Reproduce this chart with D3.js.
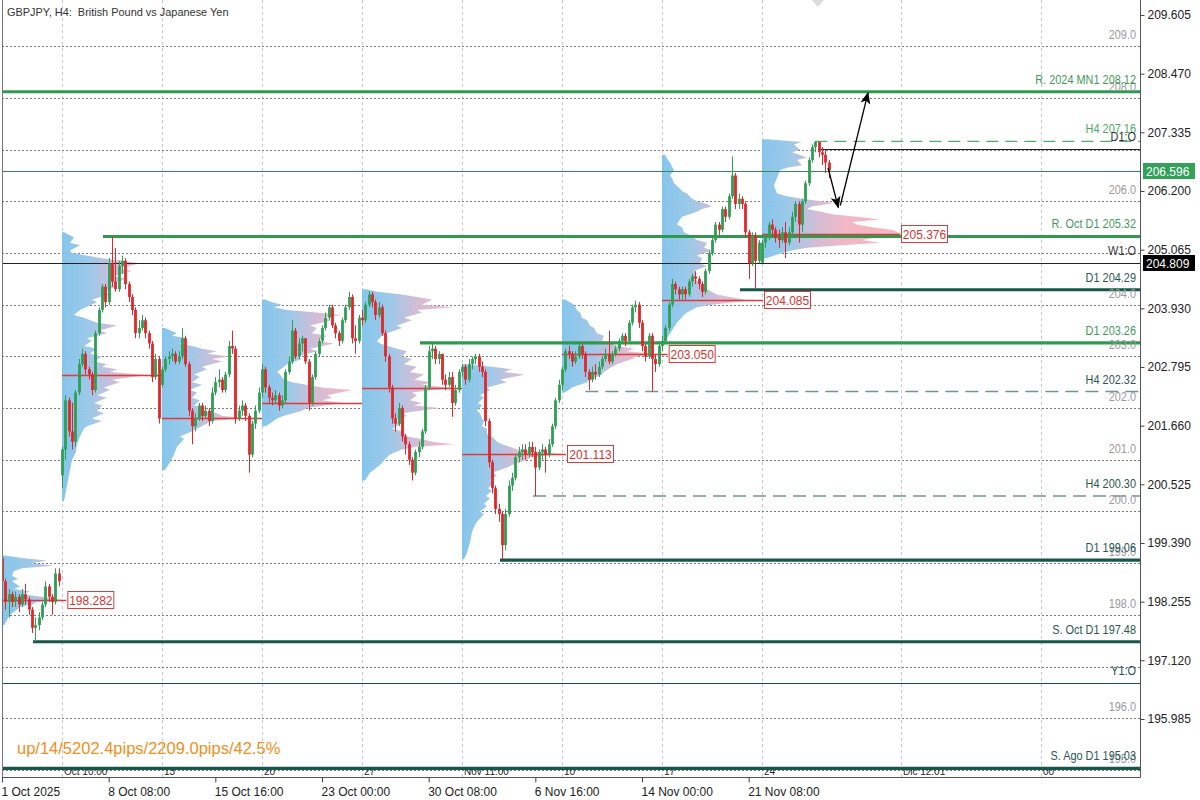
<!DOCTYPE html>
<html><head><meta charset="utf-8">
<script src="https://cdn.jsdelivr.net/npm/d3@7"></script>
<style>body{margin:0;background:#fff}svg{display:block;font-family:"Liberation Sans",Arial,sans-serif}text{white-space:pre}</style>
</head><body><svg id="c" width="1200" height="800"></svg>
<script>
// ---------------- DATA ----------------
const title = "GBPJPY, H4:  British Pound vs Japanese Yen";
const statsText = "up/14/5202.4pips/2209.0pips/42.5%";

const weekStarts = [0, 18, 48, 78, 108, 138, 168, 198, 228];
const weekOpens  = [199.10, 200.70, 202.45, 202.30, 203.75, 202.70, 202.45, 203.20, 204.81];

const closes = [
 198.65,198.25,198.40,198.25,198.35,198.20,198.40,198.30,198.10,197.75,197.80,197.95,198.20,198.55,198.35,198.25,198.80,198.65,
 201.20,202.15,201.55,201.35,202.30,202.85,203.05,202.75,202.65,202.35,203.45,203.90,204.35,204.05,204.80,204.45,204.30,204.75,204.85,204.40,204.15,203.90,203.45,203.55,203.70,203.45,203.25,202.60,202.95,201.80,
 202.75,202.95,203.00,203.05,202.90,203.00,203.35,202.85,201.95,201.65,201.80,202.05,201.85,201.95,201.75,202.30,202.50,202.55,202.35,202.65,203.20,203.15,201.80,201.95,202.05,201.85,201.10,201.70,201.95,202.30,
 202.75,202.40,202.20,202.15,202.25,202.05,202.15,202.70,202.90,203.50,203.00,203.25,203.35,202.90,202.10,202.60,203.05,203.30,203.55,203.75,203.95,203.60,203.45,203.30,203.70,203.95,204.15,203.35,203.30,203.75,
 203.70,204.00,204.20,204.05,203.80,203.95,203.45,203.00,202.40,201.80,201.70,202.00,201.45,201.30,201.00,200.75,201.15,201.25,201.55,202.40,203.10,203.15,202.95,203.05,202.55,202.45,202.60,202.10,202.35,202.70,
 202.80,202.55,202.85,202.95,203.00,202.80,202.70,201.75,200.95,200.45,200.05,199.95,199.35,199.95,200.50,200.65,201.05,201.15,201.20,201.10,201.25,201.15,200.85,201.15,201.20,201.10,201.30,201.65,202.15,202.45,
 202.75,203.10,203.05,202.90,203.00,203.20,203.05,202.70,202.55,202.70,202.65,202.80,202.95,203.05,202.90,203.05,203.15,203.30,203.40,203.30,203.65,203.95,204.00,203.65,203.20,203.00,203.40,202.95,202.85,203.20,
 203.30,203.55,204.00,204.40,204.30,204.20,204.30,204.20,204.45,204.55,204.50,204.40,204.25,204.65,205.00,205.25,205.55,205.45,205.85,205.70,206.10,206.50,205.95,206.05,205.95,205.40,204.80,205.35,204.85,205.20,
 205.20,205.30,205.55,205.45,205.30,205.25,205.40,205.20,205.40,205.70,205.95,205.55,206.00,206.35,206.80,207.05,207.15,206.95,206.90,206.75,206.60
];
const highs = [
 199.15,198.70,198.50,198.45,198.45,198.40,198.50,198.60,198.35,198.15,197.95,198.05,198.25,198.65,198.60,198.40,198.90,198.90,
 201.25,202.25,202.20,202.10,202.35,202.95,203.15,203.10,202.80,202.70,203.50,203.95,204.40,204.40,204.90,205.32,205.10,204.85,204.95,204.90,204.45,204.20,203.95,203.70,203.80,203.75,203.50,203.30,203.05,203.00,
 202.80,203.00,203.10,203.15,203.10,203.10,203.55,203.40,202.90,202.00,201.90,202.10,202.10,202.05,202.00,202.40,202.60,202.75,202.60,202.70,203.30,203.50,203.20,202.05,202.15,202.10,201.90,201.75,202.05,202.40,
 202.85,202.80,202.45,202.30,202.35,202.30,202.25,202.75,203.00,203.70,203.55,203.35,203.40,203.35,202.95,202.65,203.10,203.35,203.60,203.85,204.00,204.00,203.65,203.50,203.75,204.00,204.25,204.20,203.60,203.80,
 203.90,204.05,204.26,204.25,204.10,204.05,204.00,203.50,203.05,202.45,201.90,202.10,202.05,201.50,201.35,201.05,201.20,201.35,201.60,202.45,203.20,203.25,203.20,203.10,203.05,202.65,202.70,202.70,202.45,202.75,
 202.85,202.85,202.95,203.00,203.05,203.05,202.90,202.75,201.80,201.00,200.50,200.15,200.00,200.05,200.60,200.75,201.10,201.25,201.30,201.30,201.35,201.35,201.25,201.20,201.30,201.25,201.40,201.70,202.20,202.55,
 202.80,203.15,203.20,203.10,203.10,203.25,203.25,203.10,202.75,202.80,202.85,202.90,203.00,203.15,203.50,203.10,203.20,203.35,203.45,203.45,203.70,204.00,204.08,204.05,203.70,203.25,203.45,203.45,203.05,203.25,
 203.40,203.60,204.05,204.50,204.45,204.35,204.35,204.35,204.50,204.60,204.65,204.55,204.45,204.70,205.05,205.30,205.60,205.60,205.90,205.90,206.15,206.87,206.55,206.15,206.10,206.00,205.45,205.40,205.40,205.25,
 205.25,205.35,205.60,205.65,205.50,205.45,205.50,205.60,205.50,205.80,206.00,206.00,206.05,206.40,206.85,207.10,207.17,207.15,207.05,207.00,206.80
];
const lows = [
 198.55,198.10,197.95,198.15,198.15,198.05,198.15,198.20,198.00,197.65,197.48,197.70,197.90,198.15,198.25,198.00,198.20,198.55,
 200.45,201.00,201.45,201.20,201.25,202.25,202.80,202.65,202.55,202.25,202.30,203.40,203.85,203.95,204.00,204.35,204.25,204.25,204.60,204.30,204.05,203.80,203.35,203.35,203.50,203.35,203.15,202.50,202.55,201.70,
 202.40,202.70,202.85,202.90,202.85,202.85,202.95,202.80,201.85,201.30,201.55,201.75,201.75,201.80,201.65,201.70,202.25,202.40,202.30,202.30,202.60,203.05,201.70,201.75,201.85,201.75,200.75,201.05,201.60,201.90,
 202.20,202.30,202.10,202.05,202.10,201.95,202.00,202.10,202.65,202.85,202.95,202.95,203.10,202.85,201.95,202.05,202.55,203.00,203.25,203.50,203.70,203.55,203.35,203.20,203.25,203.65,203.90,203.25,203.05,203.25,
 203.60,203.65,203.95,203.95,203.70,203.75,203.40,202.90,202.30,201.70,201.55,201.65,201.35,201.10,200.90,200.60,200.70,201.05,201.20,201.50,202.35,202.95,202.85,202.85,202.45,202.35,202.40,201.83,202.05,202.30,
 202.60,202.45,202.50,202.75,202.85,202.70,202.60,201.65,200.85,200.35,199.95,199.80,199.08,199.25,199.90,200.40,200.60,200.95,201.00,201.00,201.05,201.05,200.30,200.80,201.00,200.75,201.05,201.25,201.60,202.10,
 202.35,202.70,202.95,202.80,202.85,202.95,202.95,202.60,202.35,202.50,202.55,202.60,202.75,202.90,202.85,202.85,203.00,203.10,203.25,203.20,203.25,203.60,203.85,203.55,203.10,202.90,202.95,202.32,202.70,202.80,
 203.10,203.25,203.50,203.95,204.20,204.10,204.10,204.10,204.15,204.35,204.40,204.30,204.15,204.20,204.60,204.95,205.20,205.35,205.40,205.60,205.65,206.05,205.85,205.85,205.85,205.30,204.50,204.75,204.32,204.80,
 204.80,205.10,205.25,205.35,205.20,205.10,205.20,204.90,205.15,205.30,205.60,205.20,205.40,205.95,206.30,206.75,206.95,206.85,206.70,206.55,206.45
];

// weekly volume profiles: [price, volume]
const profile1 = [[199.15,3],[199.1,20],[199.05,45],[199.0,30],[198.95,52],[198.9,20],[198.85,12],[198.75,10],[198.7,16],[198.65,10],[198.55,18],[198.5,12],[198.45,28],[198.4,20],[198.35,40],[198.28,62],[198.25,35],[198.2,30],[198.15,18],[198.1,15],[198.0,8],[197.9,5],[197.8,2]];
const profile2 = [[205.4,2],[205.3,12],[205.2,8],[205.15,18],[205.05,8],[205.0,10],[204.9,40],[204.85,60],[204.8,78],[204.7,58],[204.65,70],[204.55,52],[204.5,65],[204.4,48],[204.35,55],[204.25,40],[204.2,48],[204.1,30],[204.05,35],[203.9,18],[203.8,12],[203.75,22],[203.65,35],[203.6,55],[203.5,38],[203.45,45],[203.35,25],[203.3,30],[203.2,22],[203.15,35],[203.05,28],[203.0,40],[202.9,32],[202.85,45],[202.8,40],[202.75,55],[202.7,48],[202.64,85],[202.55,50],[202.5,58],[202.4,42],[202.35,48],[202.25,35],[202.2,45],[202.1,32],[202.05,40],[201.95,35],[201.9,42],[201.8,30],[201.75,40],[201.65,25],[201.6,22],[201.45,18],[201.3,15],[201.15,14],[201.0,10],[200.8,8],[200.6,6],[200.4,4],[200.2,2]];
const profile3 = [[203.55,3],[203.45,15],[203.4,10],[203.35,25],[203.25,18],[203.2,30],[203.15,40],[203.1,55],[203.05,45],[203.0,68],[202.95,50],[202.9,60],[202.8,40],[202.75,45],[202.65,32],[202.6,38],[202.5,30],[202.45,40],[202.35,28],[202.3,35],[202.2,30],[202.15,38],[202.05,32],[202.0,45],[201.95,40],[201.9,55],[201.85,60],[201.81,80],[201.75,50],[201.7,45],[201.6,35],[201.55,30],[201.45,18],[201.4,22],[201.25,15],[201.1,12],[200.95,8],[200.8,3]];
const profile4 = [[204.1,3],[204.05,10],[204.0,20],[203.95,12],[203.9,25],[203.85,55],[203.8,80],[203.75,60],[203.7,70],[203.6,48],[203.55,55],[203.45,50],[203.4,65],[203.3,55],[203.25,72],[203.15,48],[203.1,55],[203.0,35],[202.95,40],[202.85,25],[202.8,22],[202.7,15],[202.65,18],[202.55,22],[202.5,30],[202.4,60],[202.35,90],[202.25,65],[202.2,70],[202.15,60],[202.1,80],[202.0,45],[201.95,40],[201.85,22],[201.8,15],[201.65,4]];
const profile5 = [[204.3,4],[204.25,15],[204.2,40],[204.15,55],[204.1,70],[204.0,60],[203.95,92],[203.9,55],[203.85,60],[203.75,42],[203.7,50],[203.6,35],[203.55,40],[203.45,25],[203.4,20],[203.3,15],[203.25,18],[203.15,35],[203.1,45],[203.0,40],[202.95,50],[202.85,42],[202.8,55],[202.7,48],[202.65,62],[202.55,52],[202.5,70],[202.45,60],[202.39,90],[202.3,50],[202.25,55],[202.15,48],[202.1,60],[202.05,52],[202.0,78],[201.9,40],[201.85,45],[201.75,32],[201.7,40],[201.6,30],[201.55,40],[201.45,45],[201.4,60],[201.35,70],[201.3,92],[201.25,55],[201.2,40],[201.1,28],[201.05,25],[200.9,18],[200.75,8],[200.6,3]];
const profile6 = [[202.85,3],[202.8,30],[202.75,50],[202.7,42],[202.65,63],[202.55,38],[202.5,45],[202.4,25],[202.35,28],[202.25,18],[202.2,22],[202.1,16],[202.05,20],[201.95,15],[201.9,18],[201.8,20],[201.75,22],[201.65,20],[201.6,25],[201.5,25],[201.45,30],[201.35,35],[201.3,40],[201.25,48],[201.2,55],[201.15,80],[201.11,100],[201.05,70],[201.0,65],[200.9,50],[200.85,45],[200.75,30],[200.7,35],[200.6,28],[200.55,32],[200.45,26],[200.4,30],[200.3,24],[200.25,28],[200.15,22],[200.1,25],[200.0,18],[199.95,22],[199.8,15],[199.7,12],[199.6,10],[199.4,8],[199.2,5],[199.08,2]];
const profile7 = [[204.1,3],[204.05,8],[204.0,12],[203.9,15],[203.85,18],[203.75,20],[203.7,25],[203.6,28],[203.55,32],[203.45,35],[203.4,42],[203.3,40],[203.25,50],[203.2,55],[203.15,72],[203.1,65],[203.05,92],[203.0,75],[202.95,70],[202.85,55],[202.8,50],[202.7,42],[202.65,40],[202.55,28],[202.5,25],[202.4,10],[202.3,3]];
const profile8 = [[206.9,3],[206.8,6],[206.75,8],[206.6,12],[206.5,8],[206.45,10],[206.35,12],[206.3,15],[206.2,20],[206.15,25],[206.05,30],[206.0,35],[205.95,45],[205.9,50],[205.85,40],[205.8,35],[205.7,20],[205.65,18],[205.55,15],[205.5,20],[205.4,22],[205.35,28],[205.25,35],[205.2,45],[205.1,42],[205.05,50],[204.95,35],[204.9,40],[204.8,38],[204.75,45],[204.65,32],[204.6,35],[204.5,30],[204.45,38],[204.35,40],[204.3,45],[204.2,55],[204.18,60],[204.08,87],[204.0,50],[203.95,35],[203.85,25],[203.8,22],[203.65,15],[203.5,10],[203.35,5],[203.2,2]];
const profile9 = [[207.2,5],[207.15,40],[207.1,32],[207.0,38],[206.95,30],[206.85,45],[206.8,35],[206.7,40],[206.65,25],[206.6,18],[206.45,15],[206.3,12],[206.15,15],[206.1,25],[206.05,40],[205.97,73],[205.9,50],[205.85,45],[205.8,60],[205.75,70],[205.7,95],[205.65,118],[205.6,90],[205.55,95],[205.5,110],[205.45,130],[205.376,139],[205.3,115],[205.25,100],[205.2,118],[205.15,80],[205.1,45],[205.05,30],[205.0,20],[204.9,4]];
const profiles = [profile1, profile2, profile3, profile4, profile5, profile6, profile7, profile8, profile9];

const pocPrices  = [198.282, 202.64, 201.81, 202.10, 202.39, 201.113, 203.050, 204.085, 205.376];
const pocEndBars = [19.3, 48, 78, 108, 138, 169.2, 199.7, 228.3, 269.4];
const pocLabeled = [true, false, false, false, false, true, true, true, true];

const levelNames  = ["R. 2024 MN1 208.12","H4 207.16","R. Oct D1 205.32","D1 204.29","D1 203.26","H4 202.32","H4 200.30","D1 199.06","S. Oct D1 197.48","S. Ago D1 195.03"];
const levelPrices = [208.12, 207.16, 205.32, 204.29, 203.26, 202.32, 200.30, 199.06, 197.48, 195.03];
const levelStartBars = [0, 244, 30.3, 221.4, 125.4, 175, 159.3, 149.4, 9.3, 0];
const levelKinds  = ["resistance","h4up","resistance","support","resistance","h4down","h4down","support","support","support"];

const openNames  = ["D1:O", "W1:O", "Y1:O"];
const openPrices = [207.02, 204.809, 196.69];
const openStartBars = [245, 0, 0];

const gridLevels  = [209,208,207,206,205,204,203,202,201,200,199,198,197,196,195];
const roundLabels = [209,208,206,204,203,202,201,200,199,198,196,195];
const axisTicks = [209.605,208.470,207.335,206.200,205.065,203.930,202.795,201.660,200.525,199.390,198.255,197.120,195.985];
const timeTickBars = [0,32,64,96,128,160,192,224];
const timeTickLabels = ["1 Oct 2025","8 Oct 08:00","15 Oct 16:00","23 Oct 00:00","30 Oct 08:00","6 Nov 16:00","14 Nov 00:00","21 Nov 08:00"];
const separatorBars = [18,48,78,108,138,168,198,228,269.7,311.7];
const separatorLabels = ["Oct 10:00","13","20","27","Nov 11:00","10","17","24","Dic 12:01","00"];
const bidPrice = 206.596;
const markPrice = 204.809;
const arrowSegments = [[[247.8,206.65],[250.9,205.88]], [[251.5,205.92],[259.8,208.10]]];

// ---------------- DRAW ----------------
const svg = d3.select("#c");
const L = 2, R = 1140, T = 0, B = 777;
const x = d3.scaleLinear().domain([0, 341.4]).range([2, 1140]);
const y = d3.scaleLinear().domain([195.985, 209.605]).range([719, 15]);
const vol = d3.scaleLinear().domain([0, 100]).range([0, 100]);
const FONT = '"Liberation Sans",Arial,sans-serif';

function narrow(sel, k){
  sel.each(function(){
    const w = this.getComputedTextLength();
    d3.select(this).attr("textLength", w*(k||0.84)).attr("lengthAdjust","spacingAndGlyphs");
  });
}

const defs = svg.append("defs");
defs.append("clipPath").attr("id","clip").append("rect").attr("x",L).attr("y",T).attr("width",R-L).attr("height",B-T);
const mk = defs.append("marker").attr("id","arr").attr("viewBox","0 0 12 10").attr("refX",11).attr("refY",5)
  .attr("markerWidth",12).attr("markerHeight",10).attr("markerUnits","userSpaceOnUse").attr("orient","auto");
mk.append("path").attr("d","M0,0 L12,5 L0,10 L3,5 Z").attr("fill","#000");

const g = svg.append("g").attr("clip-path","url(#clip)");

// vertical period separators
g.selectAll("line.sep").data(separatorBars).join("line").attr("class","sep")
  .attr("x1",d=>Math.round(x(d))+0.5).attr("x2",d=>Math.round(x(d))+0.5).attr("y1",T).attr("y2",B)
  .attr("stroke","#c6c6c6").attr("stroke-width",1).attr("stroke-dasharray","3,3");

// horizontal round grid
g.selectAll("line.hg").data(gridLevels).join("line").attr("class","hg")
  .attr("x1",L).attr("x2",R).attr("y1",d=>Math.round(y(d))+0.5).attr("y2",d=>Math.round(y(d))+0.5)
  .attr("stroke","#7a7a7a").attr("stroke-width",1).attr("stroke-dasharray","2,2");

// volume profiles
profiles.forEach((p,i)=>{
  const x0 = x(weekStarts[i]);
  const gid = "pg"+i;
  const gr = defs.append("linearGradient").attr("id",gid).attr("gradientUnits","userSpaceOnUse")
    .attr("x1",x0).attr("x2",x0+110).attr("y1",0).attr("y2",0);
  [[0,"#7fc3ea"],[0.25,"#98c6e8"],[0.5,"#d2b9d3"],[0.75,"#f0b4c3"],[1,"#f4b2bf"]].forEach(s=>
    gr.append("stop").attr("offset",s[0]).attr("stop-color",s[1]));
  const area = d3.area().y(d=>y(d[0])).x0(x0).x1(d=>x0+vol(d[1]));
  g.append("path").datum(p).attr("d",area).attr("fill","url(#"+gid+")").attr("opacity",0.95);
});

// POC lines
g.selectAll("line.poc").data(pocPrices).join("line").attr("class","poc")
  .attr("x1",(d,i)=>x(weekStarts[i])).attr("x2",(d,i)=>x(pocEndBars[i]))
  .attr("y1",d=>Math.round(y(d))+0.5).attr("y2",d=>Math.round(y(d))+0.5)
  .attr("stroke","#dd3b3b").attr("stroke-width",1.3);

// separator date labels (bottom, inside)
g.selectAll("text.sepl").data(separatorLabels).join("text").attr("class","sepl")
  .attr("x",(d,i)=>x(separatorBars[i])+2).attr("y",775).text(d=>d)
  .attr("font-family",FONT).attr("font-size",10).attr("fill","#222");

// bid line
g.append("line").attr("x1",L).attr("x2",R).attr("y1",Math.round(y(bidPrice))+0.5).attr("y2",Math.round(y(bidPrice))+0.5)
  .attr("stroke","#2e8b57").attr("stroke-width",1);

// open lines
g.selectAll("line.op").data(openPrices).join("line").attr("class","op")
  .attr("x1",(d,i)=>x(openStartBars[i])).attr("x2",R)
  .attr("y1",d=>Math.round(y(d))+0.5).attr("y2",d=>Math.round(y(d))+0.5)
  .attr("stroke",(d,i)=>i===2?"#1d4f47":"#222").attr("stroke-width",1.1);

// level lines
const kindStyle = {
  resistance:{stroke:"#2f9a4f",w:3.2,dash:null,text:"#3f9a60"},
  support:{stroke:"#17574a",w:3.2,dash:null,text:"#2b5850"},
  h4up:{stroke:"#4caf6c",w:1.2,dash:"12,7",text:"#4da86a"},
  h4down:{stroke:"#6f978f",w:1.5,dash:"13,7",text:"#2b5850"}
};
levelPrices.forEach((p,i)=>{
  const s = kindStyle[levelKinds[i]];
  g.append("line").attr("x1",x(levelStartBars[i])).attr("x2",R).attr("y1",y(p)).attr("y2",y(p))
    .attr("stroke",s.stroke).attr("stroke-width",s.w).attr("stroke-dasharray",s.dash);
});

// candles
const opens = closes.map((c,i)=>{
  const w = weekStarts.indexOf(i);
  return w>=0 ? weekOpens[w] : closes[i-1];
});
const cg = g.append("g");
closes.forEach((c,i)=>{
  const o = opens[i], up = c>=o;
  const col = up ? "#2f9e55" : "#e2262b";
  const cx = Math.round(x(i))+0.5;
  const hi = Math.max(highs[i],o,c), lo = Math.min(lows[i],o,c);
  cg.append("line").attr("x1",cx).attr("x2",cx).attr("y1",y(hi)).attr("y2",y(lo)).attr("stroke",col).attr("stroke-width",1);
  const yt = y(Math.max(o,c)), yb = y(Math.min(o,c));
  cg.append("rect").attr("x",cx-1.4).attr("width",2.8).attr("y",yt).attr("height",Math.max(1,yb-yt)).attr("fill",col);
});

// round number labels
g.selectAll("text.rl").data(roundLabels).join("text").attr("class","rl")
  .attr("x",1136).attr("y",d=>y(d)-7).attr("text-anchor","end").text(d=>d.toFixed(1))
  .attr("font-family",FONT).attr("font-size",13).attr("fill","#9a9a9a").call(narrow,0.84);

// level labels
levelPrices.forEach((p,i)=>{
  const s = kindStyle[levelKinds[i]];
  g.append("text").attr("x",1136).attr("y",y(p)-8).attr("text-anchor","end").text(levelNames[i])
    .attr("font-family",FONT).attr("font-size",13).attr("fill",s.text).call(narrow,0.84);
});
openPrices.forEach((p,i)=>{
  g.append("text").attr("x",1136).attr("y",y(p)-8).attr("text-anchor","end").text(openNames[i])
    .attr("font-family",FONT).attr("font-size",13).attr("fill",i===2?"#1d4f47":"#333").call(narrow,0.84);
});

// POC label boxes
pocPrices.forEach((p,i)=>{
  if(!pocLabeled[i]) return;
  const bx = x(pocEndBars[i])+1, by = Math.round(y(p));
  g.append("rect").attr("x",bx+0.5).attr("y",by-8.5).attr("width",46).attr("height",17)
    .attr("fill","#fff").attr("stroke","#d83c3c").attr("stroke-width",1);
  g.append("text").attr("x",bx+23.5).attr("y",by+4.5).attr("text-anchor","middle").text(p.toFixed(3))
    .attr("font-family",FONT).attr("font-size",12).attr("fill","#cf3434");
});

// arrows
arrowSegments.forEach(seg=>{
  g.append("line").attr("x1",x(seg[0][0])).attr("y1",y(seg[0][1])).attr("x2",x(seg[1][0])).attr("y2",y(seg[1][1]))
    .attr("stroke","#000").attr("stroke-width",1.3).attr("marker-end","url(#arr)");
});

// top shift marker
svg.append("path").attr("d",`M${x(243)},0 L${x(246.5)},0 L${x(244.75)},7 Z`).attr("fill","#dcdcdc");

// title
svg.append("text").attr("x",7).attr("y",16).text(title).attr("font-family",FONT).attr("font-size",11.5).attr("fill","#333")
  .call(narrow,0.95);
// stats
svg.append("text").attr("x",17).attr("y",754).text(statsText).attr("font-family",FONT).attr("font-size",16.5).attr("fill","#ef8f1c");

// frame
svg.append("line").attr("x1",L+0.5).attr("x2",L+0.5).attr("y1",T).attr("y2",B).attr("stroke","#777");
svg.append("line").attr("x1",R+0.5).attr("x2",R+0.5).attr("y1",T).attr("y2",B+0.5).attr("stroke","#555");
svg.append("line").attr("x1",L).attr("x2",R+0.5).attr("y1",B+0.5).attr("y2",B+0.5).attr("stroke","#555");

// right axis
const ya = svg.append("g").attr("transform",`translate(${R+0.5},0)`)
  .call(d3.axisRight(y).tickValues(axisTicks).tickSize(4).tickPadding(3).tickFormat(d3.format(".3f")));
ya.select(".domain").remove();
ya.selectAll("text").attr("font-family",FONT).attr("font-size",12).attr("fill","#222");
ya.selectAll("line").attr("stroke","#444");

// bottom axis
const xa = svg.append("g").attr("transform",`translate(0,${B+0.5})`)
  .call(d3.axisBottom(x).tickValues(timeTickBars).tickSize(5).tickFormat((d,i)=>timeTickLabels[i]));
xa.select(".domain").remove();
xa.selectAll("line").attr("stroke","#444");
xa.selectAll("text").attr("text-anchor","start").attr("dx",-1).attr("dy","0.85em")
  .attr("font-family",FONT).attr("font-size",12).attr("fill","#222");

// price tags
[[bidPrice,"#32a15a"],[markPrice,"#000"]].forEach(t=>{
  const cy = Math.round(y(t[0]));
  svg.append("rect").attr("x",R+3).attr("y",cy-8).attr("width",52).attr("height",16).attr("fill",t[1]);
  svg.append("text").attr("x",R+6).attr("y",cy+4.5).text(t[0].toFixed(3))
    .attr("font-family",FONT).attr("font-size",12).attr("fill","#fff");
});
</script></body></html>
